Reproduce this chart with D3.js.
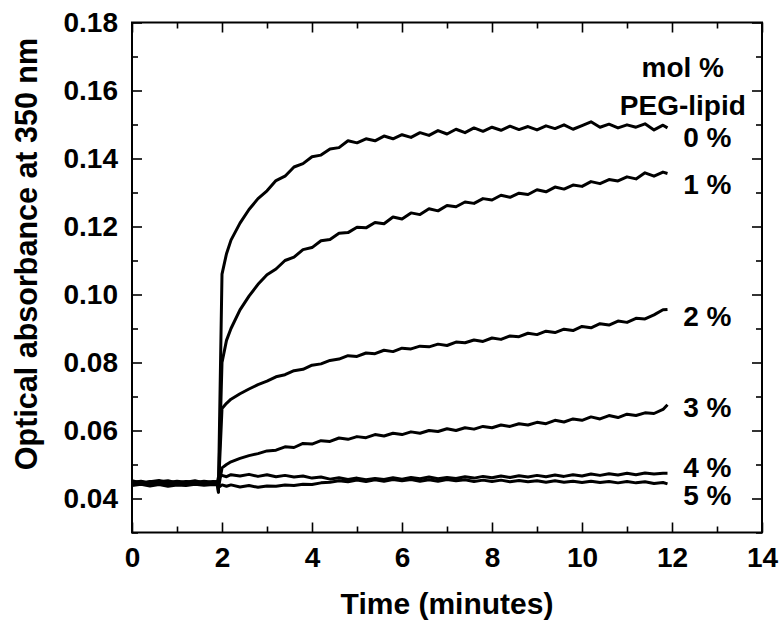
<!DOCTYPE html>
<html>
<head>
<meta charset="utf-8">
<script src="https://cdn.jsdelivr.net/npm/d3@7"></script>
<style>
  body { margin: 0; background: #fff; }
  svg text { font-family: "Liberation Sans", Arial, sans-serif; font-weight: bold; fill: #000; }
</style>
</head>
<body>
<svg id="chart"></svg>
<script>
// time points (minutes), shared by every trace
const times = [0,0.2,0.4,0.6,0.8,1.0,1.2,1.4,1.6,1.8,1.9,1.92,2.0,
  2.1,2.2,2.4,2.6,2.8,3.0,3.2,3.4,3.6,3.8,4.0,4.2,4.4,4.6,4.8,5.0,5.2,5.4,5.6,5.8,
  6.0,6.2,6.4,6.6,6.8,7.0,7.2,7.4,7.6,7.8,8.0,8.2,8.4,8.6,8.8,9.0,9.2,9.4,9.6,9.8,
  10.0,10.2,10.4,10.6,10.8,11.0,11.2,11.4,11.6,11.8,11.9];

// optical absorbance at 350 nm, one array per mol % PEG-lipid
const peg0 = [0.0448,0.0442,0.0450,0.0444,0.0446,0.0441,0.0449,0.0445,0.0447,0.0443,0.0446,0.0418,0.1060,
  0.1120,0.1160,0.1210,0.1250,0.1282,0.1305,0.1335,0.1348,0.1375,0.1385,0.1405,0.1410,0.1428,0.1432,0.1452,0.1446,0.1458,0.1452,0.1466,0.1458,
  0.1470,0.1462,0.1476,0.1468,0.1482,0.1472,0.1486,0.1476,0.1490,0.1480,0.1492,0.1483,0.1495,0.1485,0.1494,0.1484,0.1496,0.1488,0.1499,0.1486,
  0.1497,0.1508,0.1492,0.1501,0.1490,0.1499,0.1492,0.1502,0.1484,0.1498,0.1490];
const peg1 = [0.0445,0.0450,0.0443,0.0447,0.0442,0.0448,0.0444,0.0450,0.0445,0.0448,0.0447,0.0420,0.0800,
  0.0865,0.0900,0.0955,0.0995,0.1030,0.1058,0.1075,0.1100,0.1110,0.1132,0.1138,0.1158,0.1162,0.1180,0.1182,0.1198,0.1196,0.1212,0.1208,0.1228,
  0.1222,0.1240,0.1235,0.1252,0.1246,0.1262,0.1258,0.1272,0.1268,0.1282,0.1278,0.1292,0.1286,0.1298,0.1294,0.1308,0.1302,0.1316,0.1310,0.1322,
  0.1318,0.1332,0.1326,0.1338,0.1334,0.1346,0.1340,0.1358,0.1348,0.1360,0.1356];
const peg2 = [0.0452,0.0446,0.0449,0.0453,0.0447,0.0451,0.0448,0.0452,0.0446,0.0450,0.0449,0.0425,0.0665,
  0.0680,0.0692,0.0708,0.0722,0.0735,0.0745,0.0758,0.0764,0.0776,0.0780,0.0792,0.0796,0.0806,0.0810,0.0820,0.0818,0.0828,0.0826,0.0836,0.0832,
  0.0842,0.0840,0.0848,0.0846,0.0854,0.0850,0.0860,0.0858,0.0866,0.0862,0.0872,0.0868,0.0878,0.0876,0.0886,0.0882,0.0892,0.0888,0.0898,0.0894,
  0.0906,0.0902,0.0914,0.0910,0.0922,0.0918,0.0930,0.0928,0.0940,0.0955,0.0956];
const peg3 = [0.0441,0.0445,0.0440,0.0444,0.0439,0.0443,0.0446,0.0441,0.0444,0.0442,0.0445,0.0430,0.0490,
  0.0500,0.0508,0.0518,0.0526,0.0532,0.0540,0.0542,0.0552,0.0550,0.0562,0.0560,0.0570,0.0568,0.0578,0.0574,0.0582,0.0579,0.0588,0.0584,0.0592,
  0.0588,0.0596,0.0592,0.0600,0.0597,0.0605,0.0600,0.0608,0.0604,0.0612,0.0608,0.0616,0.0612,0.0620,0.0616,0.0624,0.0620,0.0630,0.0625,0.0634,
  0.0630,0.0640,0.0634,0.0644,0.0638,0.0648,0.0644,0.0652,0.0650,0.0662,0.0676];
const peg4 = [0.0447,0.0451,0.0445,0.0449,0.0452,0.0446,0.0450,0.0447,0.0451,0.0448,0.0450,0.0462,0.0468,
  0.0464,0.0470,0.0466,0.0471,0.0465,0.0470,0.0464,0.0468,0.0463,0.0466,0.0460,0.0463,0.0457,0.0461,0.0456,0.0460,0.0455,0.0459,0.0456,0.0461,
  0.0457,0.0462,0.0458,0.0463,0.0458,0.0462,0.0459,0.0464,0.0460,0.0465,0.0461,0.0466,0.0462,0.0467,0.0463,0.0468,0.0464,0.0469,0.0465,0.0470,
  0.0466,0.0472,0.0468,0.0473,0.0469,0.0474,0.0470,0.0475,0.0472,0.0474,0.0474];
const peg5 = [0.0438,0.0442,0.0437,0.0441,0.0436,0.0440,0.0438,0.0442,0.0439,0.0441,0.0440,0.0432,0.0440,
  0.0436,0.0440,0.0434,0.0438,0.0433,0.0437,0.0436,0.0440,0.0438,0.0442,0.0441,0.0446,0.0448,0.0452,0.0449,0.0454,0.0450,0.0455,0.0451,0.0456,
  0.0452,0.0456,0.0451,0.0455,0.0451,0.0456,0.0452,0.0455,0.0450,0.0454,0.0450,0.0454,0.0449,0.0453,0.0449,0.0452,0.0448,0.0452,0.0448,0.0451,
  0.0447,0.0451,0.0447,0.0450,0.0446,0.0450,0.0446,0.0449,0.0444,0.0447,0.0443];

const series = [peg0, peg1, peg2, peg3, peg4, peg5];
const seriesLabels = ["0 %", "1 %", "2 %", "3 %", "4 %", "5 %"];
const labelLevels = [0.1434, 0.1296, 0.0908, 0.0640, 0.0464, 0.0382]; // baseline of each label, in absorbance units

const xTicks = [0, 2, 4, 6, 8, 10, 12, 14];
const yTicks = [0.04, 0.06, 0.08, 0.10, 0.12, 0.14, 0.16, 0.18];

const width = 780, height = 623;
const margin = {top: 22.5, left: 132, right: 18, bottom: 90.5};

const svg = d3.select("#chart").attr("width", width).attr("height", height);

const x = d3.scaleLinear().domain([0, 14]).range([margin.left, width - margin.right]);
const y = d3.scaleLinear().domain([0.03, 0.18]).range([height - margin.bottom, margin.top]);

series.forEach((s, i) => { if (s.length !== times.length) console.log("length mismatch", i, s.length, times.length); });

// ticks point inward on all four sides
const xMinor = d3.range(1, 14, 2);
const yMinor = [0.03, 0.05, 0.07, 0.09, 0.11, 0.13, 0.15, 0.17];

function drawAxis(axis, tx, ty, labels) {
  const g = svg.append("g").attr("transform", `translate(${tx},${ty})`).call(axis);
  g.select(".domain").remove();
  g.selectAll(".tick line").attr("stroke", "#000").attr("stroke-width", 1.6);
  if (!labels) g.selectAll(".tick text").remove();
  else g.selectAll(".tick text").attr("font-size", 28).attr("fill", "#000");
  return g;
}

const bottomY = y.range()[0], topY = y.range()[1];
const leftX = x.range()[0], rightX = x.range()[1];

drawAxis(d3.axisBottom(x).tickValues(xTicks).tickSize(-10).tickPadding(15).tickFormat(d3.format("d")), 0, bottomY, true);
drawAxis(d3.axisBottom(x).tickValues(xMinor).tickSize(-6), 0, bottomY, false);
drawAxis(d3.axisTop(x).tickValues(xTicks).tickSize(-10), 0, topY, false);
drawAxis(d3.axisTop(x).tickValues(xMinor).tickSize(-6), 0, topY, false);
drawAxis(d3.axisLeft(y).tickValues(yTicks).tickSize(-10).tickPadding(14).tickFormat(d3.format(".2f")), leftX, 0, true);
drawAxis(d3.axisLeft(y).tickValues(yMinor).tickSize(-6), leftX, 0, false);
drawAxis(d3.axisRight(y).tickValues(yTicks).tickSize(-10), rightX, 0, false);
drawAxis(d3.axisRight(y).tickValues(yMinor).tickSize(-6), rightX, 0, false);

svg.append("rect")
  .attr("x", leftX).attr("y", topY)
  .attr("width", rightX - leftX).attr("height", bottomY - topY)
  .attr("fill", "none").attr("stroke", "#000").attr("stroke-width", 2);

const line = d3.line()
  .x((d, i) => x(times[i]))
  .y(d => y(d));

svg.selectAll(".trace")
  .data(series)
  .enter()
  .append("path")
    .attr("class", "trace")
    .attr("d", line)
    .attr("fill", "none")
    .attr("stroke", "#000")
    .attr("stroke-width", 3)
    .attr("stroke-linejoin", "round");

// labels at the right end of each trace
svg.selectAll(".slabel")
  .data(seriesLabels)
  .enter()
  .append("text")
    .attr("class", "slabel")
    .attr("x", x(12.25))
    .attr("y", (d, i) => y(labelLevels[i]))
    .attr("font-size", 28)
    .text(d => d);

svg.append("text").attr("x", x(12.24)).attr("y", y(0.164))
  .attr("text-anchor", "middle").attr("font-size", 28).text("mol %");
svg.append("text").attr("x", x(12.24)).attr("y", y(0.1528))
  .attr("text-anchor", "middle").attr("font-size", 28).text("PEG-lipid");

// axis titles
svg.append("text")
  .attr("x", (leftX + rightX) / 2).attr("y", 614)
  .attr("text-anchor", "middle").attr("font-size", 30)
  .text("Time (minutes)");

svg.append("text")
  .attr("transform", `translate(37,254) rotate(-90)`)
  .attr("text-anchor", "middle").attr("font-size", 30.5)
  .text("Optical absorbance at 350 nm");
</script>
</body>
</html>
